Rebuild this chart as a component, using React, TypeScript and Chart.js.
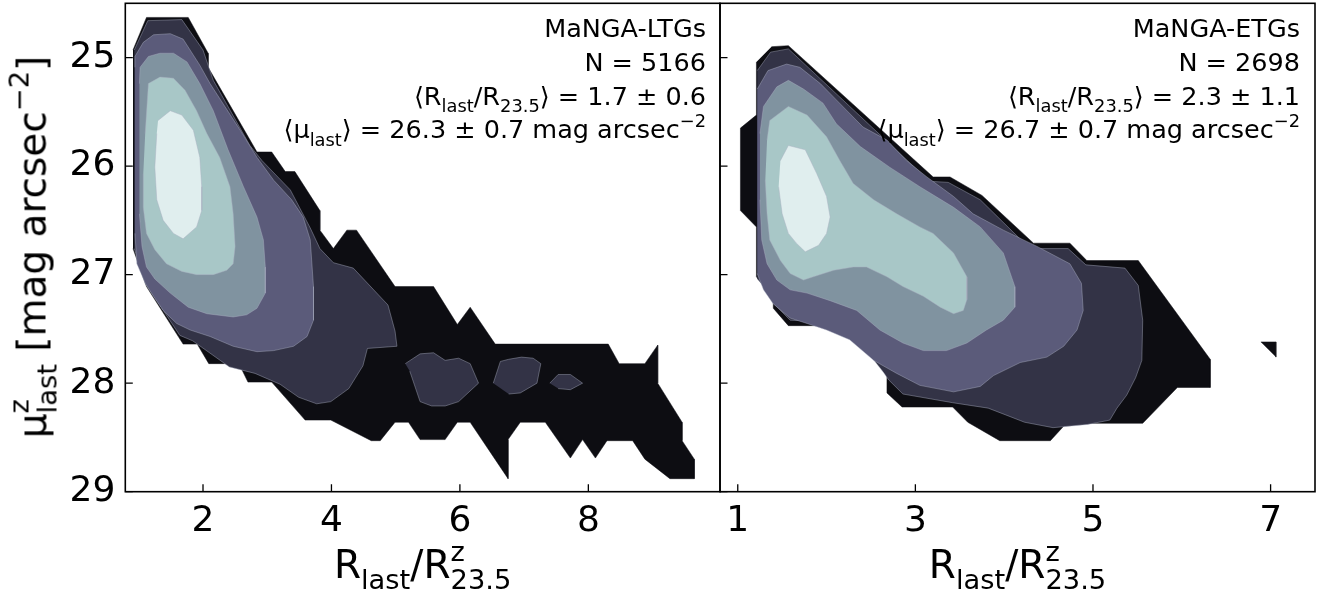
import React, { useEffect, useRef } from 'react';
import { Chart, registerables } from 'chart.js';

Chart.register(...registerables);

// ---- styling constants -------------------------------------------------
const LEVEL_COLORS = ['#0d0d12', '#333346', '#5b5b7a', '#8093a0', '#a8c7c7', '#e0eeee'];
const SEAM = 'rgba(170,175,192,0.55)';
const FONT = "'DejaVu Sans', 'Liberation Sans', sans-serif";

// ---- axes --------------------------------------------------------------
const Y_TICKS = [25, 26, 27, 28, 29];
const Y_MIN = 24.5;
const Y_MAX = 29;
const LTG_X_TICKS = [2, 4, 6, 8];
const LTG_X_RANGE = [0.79, 10.05];
const ETG_X_TICKS = [1, 3, 5, 7];
const ETG_X_RANGE = [0.8, 7.5];

// ---- MaNGA-LTGs: filled density contour vertices [R_last/R23.5, mu_last] ----
const LTG_L1 = [
  [0.91, 24.93], [1.12, 24.63], [1.77, 24.63], [2.08, 24.96], [2.08, 25.09], [2.84, 25.87],
  [3.07, 25.87], [3.28, 26.05], [3.43, 26.05], [3.82, 26.41], [3.82, 26.59], [4.03, 26.76],
  [4.24, 26.59], [4.39, 26.59], [4.99, 27.11], [5.59, 27.11], [5.96, 27.46], [6.16, 27.30],
  [6.55, 27.64], [8.31, 27.64], [8.48, 27.82], [8.88, 27.82], [9.08, 27.65], [9.08, 28.00],
  [9.46, 28.36], [9.46, 28.53], [9.65, 28.70], [9.65, 28.88], [9.27, 28.88], [8.88, 28.70],
  [8.69, 28.53], [8.29, 28.53], [8.11, 28.69], [7.91, 28.52], [7.72, 28.69], [7.33, 28.36],
  [6.94, 28.36], [6.75, 28.52], [6.75, 28.88], [6.16, 28.36], [5.96, 28.36], [5.77, 28.52],
  [5.38, 28.52], [5.20, 28.36], [4.99, 28.36], [4.76, 28.53], [4.62, 28.53], [3.99, 28.34],
  [3.59, 28.34], [3.07, 27.99], [2.70, 27.99], [2.56, 27.82], [2.09, 27.82], [1.91, 27.64],
  [1.69, 27.64], [1.12, 27.11], [0.91, 26.76],
];
const LTG_L2 = [
  [0.93, 24.93], [1.14, 24.66], [1.67, 24.65], [2.00, 24.93], [2.16, 25.21], [2.73, 25.81],
  [2.92, 25.95], [3.36, 26.22], [3.67, 26.57], [3.82, 26.76], [4.03, 26.89], [4.34, 26.94],
  [4.88, 27.28], [4.99, 27.52], [5.02, 27.66], [4.56, 27.68], [4.49, 27.84], [4.27, 28.05],
  [3.99, 28.17], [3.77, 28.19], [3.49, 28.13], [3.20, 28.01], [2.81, 27.91], [2.41, 27.85],
  [1.84, 27.61], [1.64, 27.56], [1.10, 27.08], [0.93, 26.76],
];
const LTG_L2_ISLAND_A = [
  [5.15, 27.82], [5.38, 27.73], [5.59, 27.72], [5.77, 27.79], [5.98, 27.77], [6.16, 27.82],
  [6.29, 28.00], [5.98, 28.17], [5.77, 28.21], [5.56, 28.21], [5.38, 28.17], [5.22, 27.89],
];
const LTG_L2_ISLAND_B = [
  [6.52, 28.00], [6.63, 27.80], [6.76, 27.78], [6.96, 27.76], [7.14, 27.77], [7.26, 27.82],
  [7.20, 28.00], [6.94, 28.09], [6.76, 28.10],
];
const LTG_L2_ISLAND_C = [
  [7.40, 28.00], [7.53, 27.92], [7.72, 27.92], [7.91, 28.00], [7.72, 28.06], [7.53, 28.05],
];
const LTG_L3 = [
  [0.94, 25.09], [0.94, 24.99], [1.07, 24.86], [1.23, 24.79], [1.49, 24.78], [1.69, 24.83],
  [1.95, 25.07], [2.11, 25.24], [2.58, 25.67], [2.84, 25.92], [3.10, 26.13], [3.38, 26.31],
  [3.56, 26.47], [3.67, 26.68], [3.72, 27.11], [3.72, 27.42], [3.62, 27.57], [3.41, 27.66],
  [3.10, 27.70], [2.84, 27.71], [2.47, 27.66], [2.11, 27.57], [1.80, 27.51], [1.59, 27.45],
  [1.38, 27.33], [1.23, 27.20], [1.10, 27.08], [0.97, 26.90], [0.94, 26.62],
];
const LTG_L4 = [
  [1.01, 25.24], [1.02, 25.09], [1.15, 24.99], [1.33, 24.96], [1.54, 24.96], [1.75, 25.04],
  [1.95, 25.24], [2.16, 25.49], [2.39, 25.85], [2.63, 26.19], [2.84, 26.47], [2.94, 26.68],
  [2.97, 26.93], [2.97, 27.17], [2.84, 27.31], [2.68, 27.37], [2.47, 27.39], [2.06, 27.36],
  [1.77, 27.30], [1.49, 27.17], [1.25, 27.04], [1.12, 26.93], [1.05, 26.74], [1.01, 26.44],
];
const LTG_L5 = [
  [1.10, 25.70], [1.15, 25.24], [1.33, 25.18], [1.54, 25.19], [1.72, 25.30], [1.90, 25.49],
  [2.06, 25.70], [2.26, 25.92], [2.42, 26.19], [2.47, 26.44], [2.50, 26.74], [2.47, 26.90],
  [2.37, 26.96], [2.16, 27.00], [1.90, 27.00], [1.67, 26.97], [1.43, 26.90], [1.25, 26.77],
  [1.12, 26.62], [1.07, 26.38], [1.07, 26.07],
];
const LTG_L6 = [
  [1.30, 25.58], [1.49, 25.49], [1.67, 25.53], [1.85, 25.67], [1.95, 25.92], [1.98, 26.19],
  [1.98, 26.41], [1.90, 26.56], [1.69, 26.67], [1.54, 26.62], [1.38, 26.50], [1.28, 26.31],
  [1.25, 26.01], [1.28, 25.70],
];

// ---- MaNGA-ETGs --------------------------------------------------------
const ETG_L1 = [
  [1.38, 24.90], [1.57, 24.89], [3.20, 26.10], [3.39, 26.10], [3.75, 26.27], [4.33, 26.71],
  [4.74, 26.71], [4.93, 26.87], [5.51, 26.87], [6.32, 27.78], [6.32, 28.04], [5.95, 28.04],
  [5.56, 28.37], [4.70, 28.37], [4.52, 28.53], [3.95, 28.53], [3.59, 28.36], [3.42, 28.22],
  [2.85, 28.22], [2.68, 28.09], [2.68, 27.92], [2.20, 27.47], [1.57, 27.47], [1.40, 27.31],
  [1.40, 27.22], [1.21, 27.02], [1.21, 26.56], [1.03, 26.41], [1.03, 25.65], [1.21, 25.53],
  [1.21, 25.04],
];
const ETG_L1_SPECK = [[6.89, 27.62], [7.06, 27.62], [7.06, 27.76]];
const ETG_L2 = [
  [1.22, 25.12], [1.37, 24.95], [1.57, 24.92], [3.16, 26.14], [3.37, 26.15], [3.73, 26.31],
  [4.29, 26.76], [4.72, 26.76], [4.92, 26.91], [5.36, 26.94], [5.51, 27.10], [5.56, 27.42],
  [5.55, 27.79], [5.48, 27.95], [5.38, 28.11], [5.27, 28.23], [5.19, 28.34], [4.94, 28.38],
  [4.55, 28.41], [4.23, 28.36], [4.01, 28.29], [3.82, 28.23], [3.42, 28.18], [2.86, 28.10],
  [2.70, 27.97], [2.64, 27.90], [2.20, 27.44], [1.59, 27.42], [1.42, 27.28], [1.39, 27.20],
  [1.22, 27.04],
];
const ETG_L3 = [
  [1.22, 25.29], [1.34, 25.12], [1.55, 25.06], [1.70, 25.09], [1.93, 25.24], [2.11, 25.39],
  [2.41, 25.64], [2.68, 25.76], [2.90, 25.95], [3.13, 26.10], [3.43, 26.28], [3.65, 26.44],
  [3.99, 26.59], [4.37, 26.74], [4.74, 26.90], [4.87, 27.08], [4.89, 27.33], [4.82, 27.51],
  [4.67, 27.66], [4.48, 27.76], [4.18, 27.81], [3.88, 27.93], [3.73, 28.03], [3.43, 28.08],
  [3.05, 28.02], [2.79, 27.91], [2.53, 27.79], [2.26, 27.60], [2.00, 27.51], [1.78, 27.45],
  [1.59, 27.40], [1.40, 27.27], [1.29, 27.14], [1.22, 26.99],
];
const ETG_L4 = [
  [1.25, 25.70], [1.29, 25.45], [1.44, 25.27], [1.57, 25.21], [1.74, 25.29], [1.96, 25.42],
  [2.11, 25.61], [2.38, 25.82], [2.71, 26.01], [3.05, 26.19], [3.43, 26.38], [3.73, 26.56],
  [3.99, 26.80], [4.12, 27.11], [4.12, 27.30], [3.99, 27.42], [3.80, 27.51], [3.58, 27.63],
  [3.35, 27.70], [3.09, 27.70], [2.86, 27.63], [2.60, 27.51], [2.34, 27.33], [2.04, 27.24],
  [1.78, 27.17], [1.59, 27.14], [1.44, 27.05], [1.33, 26.90], [1.27, 26.68], [1.25, 26.31],
];
const ETG_L5 = [
  [1.33, 25.76], [1.36, 25.58], [1.57, 25.45], [1.78, 25.53], [2.00, 25.73], [2.15, 25.95],
  [2.30, 26.16], [2.53, 26.31], [2.79, 26.44], [3.05, 26.56], [3.20, 26.62], [3.43, 26.80],
  [3.58, 27.02], [3.58, 27.23], [3.54, 27.33], [3.43, 27.36], [3.28, 27.30], [3.09, 27.20],
  [2.86, 27.11], [2.68, 27.02], [2.45, 26.93], [2.30, 26.93], [2.08, 26.96], [1.85, 27.02],
  [1.74, 27.05], [1.59, 26.99], [1.48, 26.87], [1.36, 26.68], [1.33, 26.44], [1.31, 26.13],
];
const ETG_L6 = [
  [1.48, 25.95], [1.57, 25.81], [1.76, 25.85], [1.89, 26.07], [2.00, 26.28], [2.04, 26.47],
  [2.00, 26.62], [1.91, 26.73], [1.76, 26.79], [1.66, 26.71], [1.57, 26.62], [1.50, 26.44],
  [1.46, 26.19],
];

// [level index, polygon]
const LTG_POLYS: [number, number[][]][] = [
  [0, LTG_L1], [1, LTG_L2], [1, LTG_L2_ISLAND_A], [1, LTG_L2_ISLAND_B], [1, LTG_L2_ISLAND_C],
  [2, LTG_L3], [3, LTG_L4], [4, LTG_L5], [5, LTG_L6],
];
const ETG_POLYS: [number, number[][]][] = [
  [0, ETG_L1], [0, ETG_L1_SPECK], [1, ETG_L2], [2, ETG_L3], [3, ETG_L4], [4, ETG_L5], [5, ETG_L6],
];

// ---- frame + inward tick marks ----------------------------------------
const framePlugin = {
  id: 'frameTicks',
  afterDraw(chart: any) {
    const { ctx, chartArea: a, scales } = chart;
    const TL = 7.5;
    ctx.save();
    ctx.strokeStyle = '#000';
    ctx.lineWidth = 1.3;
    ctx.beginPath();
    for (const t of scales.x.ticks) {
      const px = scales.x.getPixelForValue(t.value);
      ctx.moveTo(px, a.bottom);
      ctx.lineTo(px, a.bottom - TL);
    }
    for (const t of scales.y.ticks) {
      const py = scales.y.getPixelForValue(t.value);
      ctx.moveTo(a.left, py);
      ctx.lineTo(a.left + TL, py);
    }
    ctx.stroke();
    ctx.lineWidth = 1.6;
    ctx.strokeRect(a.left, a.top, a.right - a.left, a.bottom - a.top);
    ctx.restore();
  },
};

function zeroPad(s: any) {
  s.paddingTop = 0;
  s.paddingBottom = 0;
  s.paddingLeft = 0;
  s.paddingRight = 0;
}

function makeConfig(
  polys: [number, number[][]][],
  xRange: number[],
  xTicks: number[],
  showYLabels: boolean,
  yWidth: number,
  padRight: number,
): any {
  const tickFont = { family: FONT, size: 36 };
  return {
    type: 'scatter',
    data: {
      datasets: polys.map(([lvl, pts]) => ({
        data: pts.map(([x, y]) => ({ x, y })),
        showLine: true,
        fill: 'shape',
        tension: 0,
        backgroundColor: LEVEL_COLORS[lvl],
        borderColor: lvl === 0 ? LEVEL_COLORS[0] : SEAM,
        borderWidth: lvl === 0 ? 0.5 : 0.8,
        pointRadius: 0,
        pointHoverRadius: 0,
        order: 10 - lvl,
      })),
    },
    options: {
      responsive: false,
      animation: false,
      devicePixelRatio: 1,
      events: [],
      layout: { padding: { top: 3.3, right: padRight, left: 0, bottom: 0 } },
      plugins: { legend: { display: false }, tooltip: { enabled: false }, title: { display: false } },
      scales: {
        x: {
          type: 'linear',
          min: xRange[0],
          max: xRange[1],
          grid: { display: false, drawTicks: false },
          border: { display: false },
          afterBuildTicks: (s: any) => { s.ticks = xTicks.map((v) => ({ value: v })); },
          afterFit: (s: any) => { s.height = 104.3; zeroPad(s); },
          ticks: { font: tickFont, color: '#000', padding: 8, maxRotation: 0, autoSkip: false },
        },
        y: {
          type: 'linear',
          reverse: true,
          min: Y_MIN,
          max: Y_MAX,
          grid: { display: false, drawTicks: false },
          border: { display: false },
          afterBuildTicks: (s: any) => { s.ticks = Y_TICKS.map((v) => ({ value: v })); },
          afterFit: (s: any) => { s.width = yWidth; zeroPad(s); },
          ticks: { display: showYLabels, font: tickFont, color: '#000', padding: 10, autoSkip: false },
        },
      },
    },
    plugins: [framePlugin],
  };
}

function Panel(props: { left: number; width: number; config: any }) {
  const ref = useRef<HTMLCanvasElement | null>(null);
  useEffect(() => {
    if (!ref.current) return;
    const chart = new Chart(ref.current, props.config);
    return () => chart.destroy();
  }, []);
  return (
    <canvas
      ref={ref}
      width={props.width}
      height={596}
      style={{ position: 'absolute', left: props.left, top: 0, width: props.width, height: 596 }}
    />
  );
}

// sub/superscript helpers
const Sub = ({ children }: any) => (
  <span style={{ fontSize: '0.7em', position: 'relative', top: '0.42em' }}>{children}</span>
);
const Sup = ({ children }: any) => (
  <span style={{ fontSize: '0.7em', position: 'relative', top: '-0.62em' }}>{children}</span>
);
const SupSub = ({ sup, sub, supW }: any) => (
  <>
    <span style={{ fontSize: '0.7em', position: 'relative', top: '-0.62em' }}>{sup}</span>
    <span style={{ fontSize: '0.7em', position: 'relative', top: '0.42em', marginLeft: `-${supW}em` }}>{sub}</span>
  </>
);

const ANN_SIZE = 25.5;
const ANN_BASELINES = [38, 72, 105.5, 139];

function Annotation(props: { right: number; lines: any[] }) {
  return (
    <>
      {props.lines.map((ln, i) => (
        <div
          key={i}
          style={{
            position: 'absolute',
            right: props.right,
            top: ANN_BASELINES[i] - 0.846 * ANN_SIZE,
            fontFamily: FONT,
            fontSize: ANN_SIZE,
            lineHeight: 1,
            whiteSpace: 'nowrap',
            textAlign: 'right',
            color: '#000',
          }}
        >
          {ln}
        </div>
      ))}
    </>
  );
}

const LTG_LINES = [
  'MaNGA-LTGs',
  'N = 5166',
  <>⟨R<Sub>last</Sub>/R<Sub>23.5</Sub>⟩ = 1.7 ± 0.6</>,
  <>⟨μ<Sub>last</Sub>⟩ = 26.3 ± 0.7 mag arcsec<Sup>−2</Sup></>,
];
const ETG_LINES = [
  'MaNGA-ETGs',
  'N = 2698',
  <>⟨R<Sub>last</Sub>/R<Sub>23.5</Sub>⟩ = 2.3 ± 1.1</>,
  <>⟨μ<Sub>last</Sub>⟩ = 26.7 ± 0.7 mag arcsec<Sup>−2</Sup></>,
];

const TITLE_SIZE = 39;

function XTitle(props: { center: number }) {
  return (
    <div
      style={{
        position: 'absolute',
        left: props.center,
        top: 578 - 0.846 * TITLE_SIZE,
        transform: 'translateX(-50%)',
        fontFamily: FONT,
        fontSize: TITLE_SIZE,
        lineHeight: 1,
        whiteSpace: 'nowrap',
        color: '#000',
      }}
    >
      R<Sub>last</Sub>/R<SupSub sup="z" sub="23.5" supW={0.525} />
    </div>
  );
}

function YTitle() {
  return (
    <div
      style={{
        position: 'absolute',
        left: 45 - (0.846 * TITLE_SIZE - TITLE_SIZE / 2),
        top: 247,
        transform: 'translate(-50%, -50%) rotate(-90deg)',
        fontFamily: FONT,
        fontSize: TITLE_SIZE,
        lineHeight: 1,
        whiteSpace: 'nowrap',
        color: '#000',
      }}
    >
      μ<SupSub sup="z" sub="last" supW={0.525} /> [mag arcsec<Sup>−2</Sup>]
    </div>
  );
}

export default function App() {
  const ltgConfig = makeConfig(LTG_POLYS, LTG_X_RANGE, LTG_X_TICKS, true, 125.3, 2);
  const etgConfig = makeConfig(ETG_POLYS, ETG_X_RANGE, ETG_X_TICKS, false, 2, 12);
  return (
    <div
      style={{
        position: 'fixed',
        left: 0,
        top: 0,
        width: 1327,
        height: 596,
        background: '#fff',
        overflow: 'hidden',
      }}
    >
      <Panel left={0} width={722} config={ltgConfig} />
      <Panel left={718} width={609} config={etgConfig} />
      <Annotation right={1327 - 706} lines={LTG_LINES} />
      <Annotation right={1327 - 1300} lines={ETG_LINES} />
      <XTitle center={422.6} />
      <XTitle center={1017.5} />
      <YTitle />
    </div>
  );
}
